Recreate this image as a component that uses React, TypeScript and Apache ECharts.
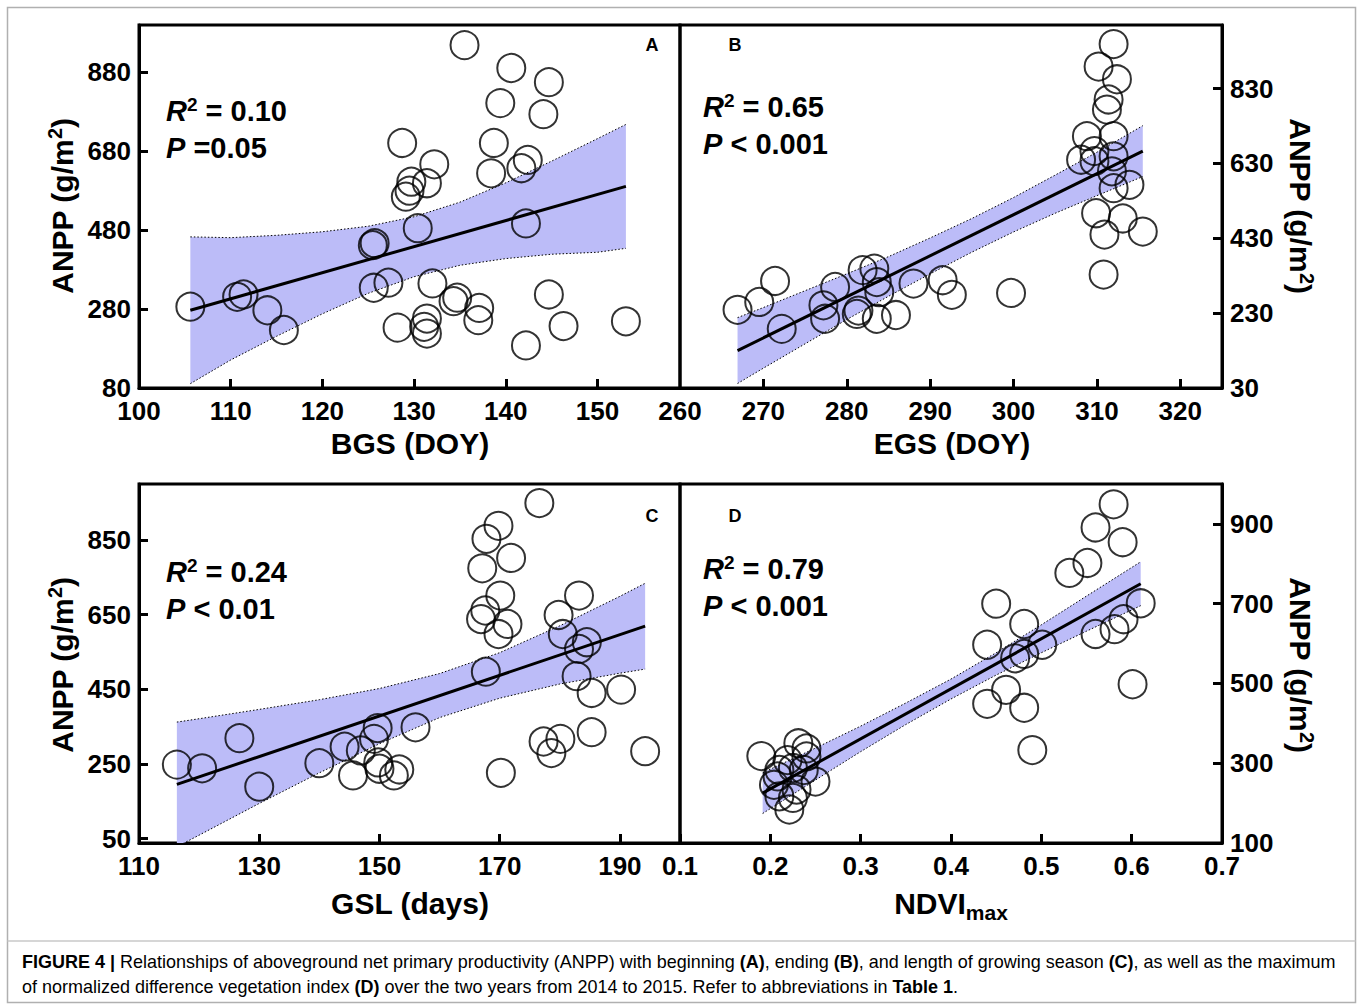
import React, { useEffect, useRef } from "react";
import * as echarts from "echarts";

// ---------- Panel A: BGS (DOY) ----------
const bgsX = [105.6, 110.7, 111.4, 114.0, 115.8, 125.5, 125.7, 125.6, 127.2, 128.7, 128.2, 129.1, 129.5, 129.7, 131.4, 132.2, 130.4, 132.0, 131.4, 131.1, 131.4, 134.7, 134.3, 137.1, 137.0, 135.5, 140.6, 144.7, 139.4, 144.1, 138.7, 138.4, 142.4, 141.7, 142.2, 144.7, 146.3, 142.2, 153.1];
const bgsY = [286, 311, 317, 277, 227, 442, 447, 334, 347, 701, 233, 565, 580, 603, 599, 647, 485, 345, 256, 235, 218, 309, 300, 283, 252, 949, 891, 855, 802, 774, 701, 624, 658, 637, 497, 317, 237, 188, 249];
const bgsLineX = [105.6, 153.1];
const bgsLineY = [277, 591];
const bgsBandX = [105.6, 110, 115, 120, 125, 130, 135, 140, 145, 150, 153.1];
const bgsBandHi = [463, 461, 467, 476, 490, 514, 551, 600, 655, 712, 748];
const bgsBandLo = [91, 151, 211, 268, 320, 362, 391, 408, 419, 424, 434];
const bgsXTicks = [100, 110, 120, 130, 140, 150];
const bgsYTicks = [80, 280, 480, 680, 880];

// ---------- Panel B: EGS (DOY) ----------
const egsX = [266.9, 269.5, 271.4, 272.2, 277.2, 278.6, 277.4, 281.9, 283.3, 283.6, 283.9, 281.4, 281.2, 283.6, 285.9, 288.0, 291.5, 292.6, 299.7, 312.0, 310.2, 312.4, 311.4, 311.2, 308.8, 312.0, 309.7, 308.1, 312.0, 309.7, 311.8, 312.0, 313.9, 309.9, 313.1, 310.9, 315.5, 310.8];
const egsY = [239, 260, 316, 188, 251, 300, 215, 345, 349, 313, 286, 237, 228, 215, 225, 309, 318, 279, 284, 949, 889, 855, 801, 774, 703, 703, 663, 640, 649, 636, 609, 564, 573, 497, 483, 440, 448, 333];
const egsLineX = [266.9, 315.5];
const egsLineY = [130, 663];
const egsBandX = [266.9, 270, 275, 280, 285, 290, 295, 300, 305, 310, 315.5];
const egsBandHi = [218, 245, 290, 335, 381, 431, 483, 539, 599, 660, 731];
const egsBandLo = [42, 83, 148, 213, 275, 335, 393, 447, 497, 544, 595];
const egsXLabels = [260, 270, 280, 290, 300, 310, 320];
const egsXTicks = [270, 280, 290, 300, 310, 320];
const egsYTicks = [30, 230, 430, 630, 830];

// ---------- Panel C: GSL (days) ----------
const gslX = [116.3, 120.5, 126.7, 130.0, 140.0, 144.2, 145.6, 146.9, 149.1, 149.7, 149.8, 150.0, 153.3, 152.4, 156.0, 169.8, 167.8, 171.9, 167.1, 170.1, 167.6, 166.9, 171.3, 169.8, 167.7, 176.6, 183.2, 179.8, 180.5, 184.5, 183.2, 182.8, 185.3, 190.2, 177.3, 180.1, 178.6, 185.3, 170.2, 194.2];
const gslY = [248, 238, 319, 189, 252, 296, 219, 286, 317, 346, 254, 237, 235, 219, 348, 888, 853, 802, 774, 701, 661, 638, 625, 598, 497, 949, 701, 649, 598, 576, 558, 485, 440, 449, 310, 317, 279, 335, 226, 284];
const gslLineX = [116.3, 194.2];
const gslLineY = [195, 619];
const gslBandX = [116.3, 120, 130, 140, 150, 160, 170, 180, 190, 194.2];
const gslBandHi = [362, 371, 396, 422, 452, 492, 548, 620, 699, 734];
const gslBandLo = [28, 59, 144, 226, 304, 374, 426, 464, 493, 504];
const gslXTicks = [110, 130, 150, 170, 190];
const gslYTicks = [50, 250, 450, 650, 850];

// ---------- Panel D: NDVImax ----------
const ndviX = [0.580, 0.560, 0.590, 0.551, 0.531, 0.610, 0.450, 0.591, 0.581, 0.560, 0.481, 0.501, 0.481, 0.471, 0.440, 0.461, 0.440, 0.481, 0.601, 0.490, 0.190, 0.231, 0.240, 0.240, 0.210, 0.219, 0.225, 0.250, 0.204, 0.210, 0.229, 0.221, 0.208, 0.225, 0.237];
const ndviY = [949, 891, 854, 802, 777, 701, 700, 661, 636, 624, 649, 597, 574, 563, 597, 484, 449, 439, 498, 333, 318, 350, 337, 317, 283, 308, 288, 254, 246, 217, 234, 184, 267, 213, 283];
const ndviLineX = [0.1915, 0.61];
const ndviLineY = [225, 750];
const ndviBandX = [0.1915, 0.25, 0.3, 0.35, 0.4, 0.45, 0.5, 0.55, 0.61];
const ndviBandHi = [276, 338, 393, 451, 511, 577, 647, 719, 805];
const ndviBandLo = [174, 258, 329, 397, 461, 521, 577, 631, 695];
const ndviXTicks = [0.1, 0.2, 0.3, 0.4, 0.5, 0.6, 0.7];
const ndviYTicks = [100, 300, 500, 700, 900];

const statsText = [
  { r2: "0.10", p: " =0.05" },
  { r2: "0.65", p: " < 0.001" },
  { r2: "0.24", p: " < 0.01" },
  { r2: "0.79", p: " < 0.001" },
];
const panelLetters = ["A", "B", "C", "D"];
const xTitles = ["BGS (DOY)", "EGS (DOY)", "GSL (days)", "NDVI"];
const captionLine1 = [
  ["b", "FIGURE 4 | "],
  ["n", "Relationships of aboveground net primary productivity (ANPP) with beginning "],
  ["b", "(A)"],
  ["n", ", ending "],
  ["b", "(B)"],
  ["n", ", and length of growing season "],
  ["b", "(C)"],
  ["n", ", as well as the maximum"],
];
const captionLine2 = [
  ["n", "of normalized difference vegetation index "],
  ["b", "(D)"],
  ["n", " over the two years from 2014 to 2015. Refer to abbreviations in "],
  ["b", "Table 1"],
  ["n", "."],
];

const FONT = "'Liberation Sans', Arial, Helvetica, sans-serif";
const BAND = "#bcbcf8";

const panels = [
  { xs: bgsX, ys: bgsY, lx: bgsLineX, ly: bgsLineY, bx: bgsBandX, bh: bgsBandHi, bl: bgsBandLo,
    grid: { left: 139, top: 25, width: 541, height: 363 }, xMin: 100, xMax: 159, xLabels: bgsXTicks, xTicks: bgsXTicks,
    yMin: 80, yMax: 1000, yTicks: bgsYTicks, yPos: "left" },
  { xs: egsX, ys: egsY, lx: egsLineX, ly: egsLineY, bx: egsBandX, bh: egsBandHi, bl: egsBandLo,
    grid: { left: 680, top: 25, width: 542, height: 363 }, xMin: 260, xMax: 325, xLabels: egsXLabels, xTicks: egsXTicks,
    yMin: 30, yMax: 1000, yTicks: egsYTicks, yPos: "right" },
  { xs: gslX, ys: gslY, lx: gslLineX, ly: gslLineY, bx: gslBandX, bh: gslBandHi, bl: gslBandLo,
    grid: { left: 139, top: 484, width: 541, height: 359 }, xMin: 110, xMax: 200, xLabels: gslXTicks, xTicks: gslXTicks,
    yMin: 38, yMax: 1000, yTicks: gslYTicks, yPos: "left" },
  { xs: ndviX, ys: ndviY, lx: ndviLineX, ly: ndviLineY, bx: ndviBandX, bh: ndviBandHi, bl: ndviBandLo,
    grid: { left: 680, top: 484, width: 542, height: 359 }, xMin: 0.1, xMax: 0.7, xLabels: ndviXTicks, xTicks: ndviXTicks,
    yMin: 100, yMax: 1000, yTicks: ndviYTicks, yPos: "right" },
];

const labelStyle = { color: "#000", fontSize: 26, fontWeight: "bold", fontFamily: FONT };

function bandRenderer(xs: number[], lo: number[], hi: number[]) {
  return (params: any, api: any) => {
    if (params.dataIndex !== 0) return null;
    const up = xs.map((x, i) => api.coord([x, hi[i]]));
    const dn = xs.map((x, i) => api.coord([x, lo[i]]));
    return {
      type: "group",
      children: [
        { type: "polygon", shape: { points: up.concat(dn.slice().reverse()) }, style: { fill: BAND } },
        { type: "polyline", shape: { points: up }, style: { stroke: "#000", lineWidth: 1, lineDash: [1.5, 2], fill: null } },
        { type: "polyline", shape: { points: dn }, style: { stroke: "#000", lineWidth: 1, lineDash: [1.5, 2], fill: null } },
      ],
    };
  };
}

function richLine(parts: string[][]) {
  return parts.map(([k, t]) => `{${k}|${t}}`).join("");
}

function pickCaptionFont(ctx: CanvasRenderingContext2D): string {
  const probe = "Relationships of aboveground net primary productivity";
  const candidates = ["Liberation Sans Narrow", "Arial Narrow", "Nimbus Sans Narrow"];
  for (const c of candidates) {
    ctx.font = `20px '${c}', monospace`;
    const a = ctx.measureText(probe).width;
    ctx.font = `20px '${c}', serif`;
    const b = ctx.measureText(probe).width;
    if (Math.abs(a - b) < 0.5) return `'${c}', 'Liberation Sans', Arial, sans-serif`;
  }
  return "'Liberation Sans', Arial, sans-serif";
}

export default function App() {
  const ref = useRef<HTMLDivElement>(null);
  useEffect(() => {
    if (!ref.current) return;
    const chart = echarts.init(ref.current, null, { renderer: "svg" });

    const ctx = document.createElement("canvas").getContext("2d")!;
    const capFam = pickCaptionFont(ctx);
    ctx.font = `20px ${capFam}`;
    const plain1 = captionLine1.map((p) => p[1]).join("");
    const w1 = ctx.measureText(plain1).width;
    const capSize = Math.min(21, (20 * 1312) / w1);

    const grids: any[] = [];
    const xAxes: any[] = [];
    const yAxes: any[] = [];
    const series: any[] = [];
    panels.forEach((p, i) => {
      grids.push({ ...p.grid, show: true, borderColor: "#000", borderWidth: 3, containLabel: false });
      xAxes.push({
        type: "value", gridIndex: i, min: p.xMin, max: p.xMax,
        axisLine: { show: true, onZero: false, lineStyle: { color: "#000", width: 3 } },
        axisTick: { show: true, inside: true, length: 9, customValues: p.xTicks, lineStyle: { color: "#000", width: 3 } },
        axisLabel: { ...labelStyle, margin: 10, customValues: p.xLabels },
        splitLine: { show: false },
      });
      yAxes.push({
        type: "value", gridIndex: i, min: p.yMin, max: p.yMax, position: p.yPos,
        axisLine: { show: true, onZero: false, lineStyle: { color: "#000", width: 3 } },
        axisTick: { show: true, inside: true, length: 9, customValues: p.yTicks, lineStyle: { color: "#000", width: 3 } },
        axisLabel: { ...labelStyle, margin: 8, customValues: p.yTicks },
        splitLine: { show: false },
      });
      series.push({
        type: "custom", xAxisIndex: i, yAxisIndex: i, clip: true, silent: true,
        data: p.bx.map((x, k) => [x, p.bl[k], p.bh[k]]),
        encode: { x: 0, y: [1, 2] },
        renderItem: bandRenderer(p.bx, p.bl, p.bh),
        z: 1,
      });
      series.push({
        type: "line", xAxisIndex: i, yAxisIndex: i, symbol: "none",
        data: p.lx.map((x, k) => [x, p.ly[k]]),
        lineStyle: { color: "#000", width: 3 }, z: 3,
      });
      series.push({
        type: "scatter", xAxisIndex: i, yAxisIndex: i, symbol: "circle", symbolSize: 28,
        data: p.xs.map((x, k) => [x, p.ys[k]]),
        itemStyle: { color: "rgba(0,0,0,0)", borderColor: "#000", borderWidth: 2 }, z: 4,
      });
    });

    const supRich = {
      a: { fontSize: 30, fontWeight: "bold", fontFamily: FONT, color: "#000", lineHeight: 34 },
      s: { fontSize: 20, fontWeight: "bold", fontFamily: FONT, color: "#000", lineHeight: 20, verticalAlign: "top" },
    };
    const yTitle = (x: number, y: number, rot: number) => ({
      type: "text", x, y, rotation: rot,
      style: { text: "{a|ANPP (g/m}{s|2}{a|)}", rich: supRich, align: "center", verticalAlign: "middle", textAlign: "center", textVerticalAlign: "middle" },
    });
    const statRich = {
      i: { fontSize: 29, fontWeight: "bold", fontStyle: "italic", fontFamily: FONT, color: "#000", lineHeight: 32 },
      b: { fontSize: 29, fontWeight: "bold", fontFamily: FONT, color: "#000", lineHeight: 32 },
      s: { fontSize: 19, fontWeight: "bold", fontFamily: FONT, color: "#000", lineHeight: 19, verticalAlign: "top" },
    };
    const statPos = [[166, 111], [703, 107], [166, 572], [703, 569]];
    const letterPos = [[652, 45], [735, 45], [652, 516], [735, 516]];
    const xTitlePos = [[410, 443], [952, 443], [410, 903], [951, 903]];
    const graphics: any[] = [
      { type: "rect", shape: { x: 7.5, y: 7.5, width: 1348, height: 995 }, style: { fill: "none", stroke: "#b0b0b0", lineWidth: 1.5 }, z: 0 },
      { type: "line", shape: { x1: 7.5, y1: 941, x2: 1355.5, y2: 941 }, style: { stroke: "#c8c8c8", lineWidth: 1.5 } },
      yTitle(62, 206, Math.PI / 2),
      yTitle(62, 665, Math.PI / 2),
      yTitle(1300, 206, -Math.PI / 2),
      yTitle(1300, 665, -Math.PI / 2),
    ];
    statsText.forEach((s, i) => {
      graphics.push({ type: "text", x: statPos[i][0], y: statPos[i][1],
        style: { text: `{i|R}{s|2}{b| = ${s.r2}}`, rich: statRich, align: "left", verticalAlign: "middle", textAlign: "left", textVerticalAlign: "middle" } });
      graphics.push({ type: "text", x: statPos[i][0], y: statPos[i][1] + 37,
        style: { text: `{i|P}{b|${s.p}}`, rich: statRich, align: "left", verticalAlign: "middle", textAlign: "left", textVerticalAlign: "middle" } });
      graphics.push({ type: "text", x: letterPos[i][0], y: letterPos[i][1],
        style: { text: panelLetters[i], fill: "#000", font: `bold 18px ${FONT}`, align: "center", verticalAlign: "middle", textAlign: "center", textVerticalAlign: "middle" } });
      const t = i === 3 ? "{a|NDVI}{m|max}" : `{a|${xTitles[i]}}`;
      graphics.push({ type: "text", x: xTitlePos[i][0], y: xTitlePos[i][1],
        style: { text: t, align: "center", verticalAlign: "middle", textAlign: "center", textVerticalAlign: "middle",
          rich: {
            a: { fontSize: 30, fontWeight: "bold", fontFamily: FONT, color: "#000", lineHeight: 40 },
            m: { fontSize: 21, fontWeight: "bold", fontFamily: FONT, color: "#000", lineHeight: 18, verticalAlign: "bottom" },
          } } });
    });
    const capRich = {
      b: { fontSize: capSize, fontWeight: "bold", fontFamily: capFam, color: "#333" },
      n: { fontSize: capSize, fontFamily: capFam, color: "#333" },
    };
    graphics.push({ type: "text", x: 22, y: 962, style: { text: richLine(captionLine1), rich: capRich, align: "left", verticalAlign: "middle", textAlign: "left", textVerticalAlign: "middle" } });
    graphics.push({ type: "text", x: 22, y: 987, style: { text: richLine(captionLine2), rich: capRich, align: "left", verticalAlign: "middle", textAlign: "left", textVerticalAlign: "middle" } });

    chart.setOption({
      animation: false,
      backgroundColor: "#fff",
      grid: grids,
      xAxis: xAxes,
      yAxis: yAxes,
      series,
      graphic: graphics,
    });
    return () => chart.dispose();
  }, []);
  return <div ref={ref} style={{ position: "absolute", left: 0, top: 0, width: 1358, height: 1005, background: "#fff" }} />;
}
